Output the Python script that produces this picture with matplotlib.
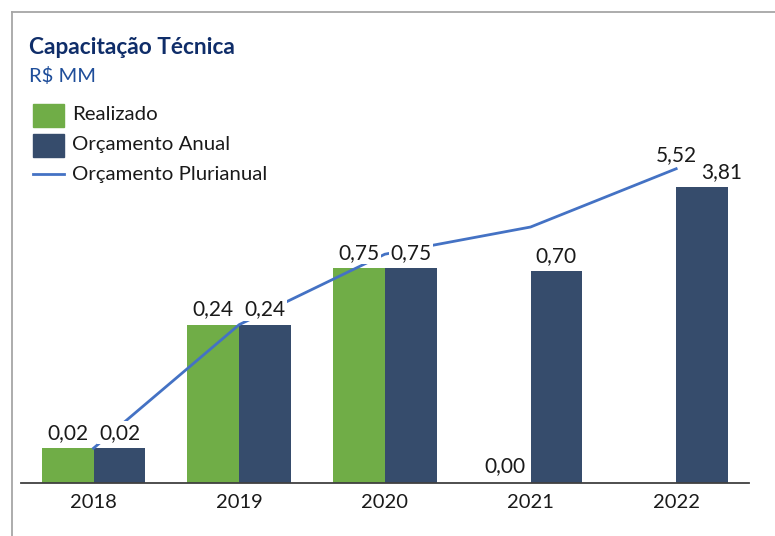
import matplotlib
matplotlib.use("Agg")
import matplotlib.pyplot as plt
from matplotlib.lines import Line2D
import numpy as np

years = ["2018", "2019", "2020", "2021", "2022"]
realizado = [0.02, 0.24, 0.75, 0.00, None]
orcamento_anual = [0.02, 0.24, 0.75, 0.70, 3.81]
orcamento_plurianual = [0.02, 0.24, 0.99, 1.71, 5.52]

GREEN = "#70AD47"
NAVY = "#364C6C"
LINE = "#4472C4"

plt.rcParams['font.family'] = ['Lato', 'DejaVu Sans']

W, H = 775, 536
fig = plt.figure(figsize=(W / 100, H / 100), dpi=100)

def fx(px):
    return px / W

def fy(py):
    return 1 - py / H

# border (top and left only)
fig.add_artist(Line2D([fx(11.5), fx(11.5)], [fy(12), 0], color="#A6A6A6", lw=1.3))
fig.add_artist(Line2D([fx(11.5), 1], [fy(12), fy(12)], color="#A6A6A6", lw=1.3))

base_px = 482.7
top_px = 100
ppd = 114.5
ymin = 0.01
ymax = 10 ** (np.log10(ymin) + (base_px - top_px) / ppd)

ax = fig.add_axes([fx(20.7), fy(base_px), fx(749) - fx(20.7), (base_px - top_px) / H])
ax.set_yscale("log")
ax.set_ylim(ymin, ymax)
ax.set_xlim(-0.5, 4.5)

x = np.arange(len(years))
bw = 0.356

for i, v in enumerate(realizado):
    if v is not None and v > 0:
        ax.bar(x[i] - bw / 2, v - ymin, bottom=ymin, width=bw, color=GREEN, zorder=2)
for i, v in enumerate(orcamento_anual):
    ax.bar(x[i] + bw / 2, v - ymin, bottom=ymin, width=bw, color=NAVY, zorder=2)

ax.plot(x, orcamento_plurianual, color=LINE, lw=2, zorder=3)

lab_kw = dict(textcoords="offset points", ha="center", va="center", fontsize=15,
              color="#1a1a1a", zorder=5,
              bbox=dict(facecolor="white", edgecolor="none", pad=1.0))

def fmt(v):
    return f"{v:.2f}".replace(".", ",")

for i, v in enumerate(realizado):
    if v is None:
        continue
    yv = v if v > 0 else ymin
    ax.annotate(fmt(v), (x[i] - bw / 2, yv), xytext=(0, 11 if v > 0 else 12), **lab_kw)
for i, v in enumerate(orcamento_anual):
    dx = 14 if i == 4 else 0
    ax.annotate(fmt(v), (x[i] + bw / 2, v), xytext=(dx, 11), **lab_kw)
ax.annotate(fmt(orcamento_plurianual[-1]), (x[-1], orcamento_plurianual[-1]),
            xytext=(0, 10), **lab_kw)

for s in ["top", "right", "left"]:
    ax.spines[s].set_visible(False)
ax.spines["bottom"].set_color("#404040")
ax.spines["bottom"].set_linewidth(1.3)
ax.set_yticks([])
ax.yaxis.set_minor_locator(matplotlib.ticker.NullLocator())
ax.set_xticks(x)
ax.set_xticklabels(years, fontsize=14.5, color="#1a1a1a")
ax.tick_params(axis="x", length=0, pad=8)

# title
fig.text(fx(29), fy(54.5), "Capacitação Técnica", fontsize=16.3, fontweight="bold",
         color="#0F2D69", ha="left", va="baseline")
fig.text(fx(29), fy(82), "R$ MM", fontsize=14.5, color="#1F4E9A", ha="left", va="baseline")

# legend
leg_items = [("Realizado", GREEN, "patch", 115),
             ("Orçamento Anual", NAVY, "patch", 145),
             ("Orçamento Plurianual", LINE, "line", 174.3)]
for label, col, kind, yc in leg_items:
    if kind == "patch":
        fig.add_artist(matplotlib.patches.Rectangle((fx(33.3), fy(yc + 11.5)), fx(31), 23 / H,
                                                    color=col, transform=fig.transFigure))
    else:
        fig.add_artist(Line2D([fx(33.3), fx(64.3)], [fy(yc), fy(yc)], color=col, lw=2))
    fig.text(fx(72), fy(yc), label, fontsize=14.7, color="#1a1a1a", ha="left", va="center")

fig.savefig("out.png", dpi=100, facecolor="white")
